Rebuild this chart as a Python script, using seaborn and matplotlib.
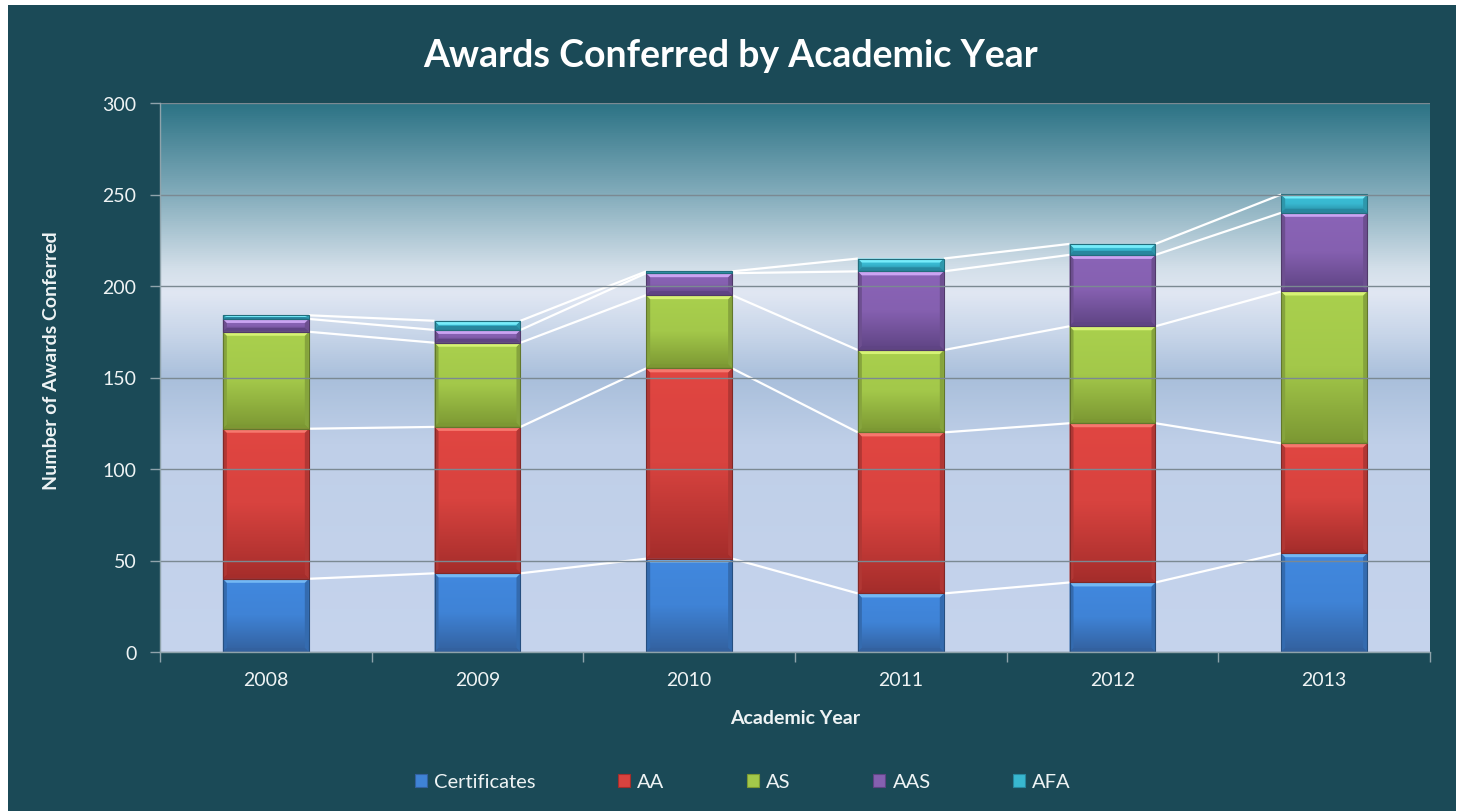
import numpy as np
import pandas as pd
import matplotlib
matplotlib.use("Agg")
import matplotlib.pyplot as plt
from matplotlib.patches import Rectangle, Polygon, Patch
from matplotlib.colors import LinearSegmentedColormap, to_rgb
import seaborn as sns

# ---- data -------------------------------------------------------------
years = ["2008", "2009", "2010", "2011", "2012", "2013"]
series_names = ["Certificates", "AA", "AS", "AAS", "AFA"]
certificates = [40, 43, 51, 32, 38, 54]
aa = [82, 80, 104, 88, 87, 60]
as_awards = [53, 46, 40, 45, 53, 83]
aas = [7, 7, 12, 43, 39, 43]
afa = [2, 5, 1, 7, 6, 10]
y_ticks = [0, 50, 100, 150, 200, 250, 300]

series_values = [certificates, aa, as_awards, aas, afa]

# body colour, light bevel, dark bottom for each series
palette = {
    "Certificates": ("#3f83d6", "#74b8f4", "#33619f"),
    "AA": ("#d8433f", "#f6786e", "#a52d2b"),
    "AS": ("#a3c84a", "#d6f275", "#7c9833"),
    "AAS": ("#8560b0", "#cba4f2", "#5f4484"),
    "AFA": ("#38b8d0", "#76ecfa", "#27879e"),
}

BG = "#1b4a57"
TEXT = "#eef3f4"
GRID = "#7b8992"

W, H, DPI = 1462, 812, 100
plt.rcParams["font.family"] = ["Lato", "DejaVu Sans"]

fig = plt.figure(figsize=(W / DPI, H / DPI), dpi=DPI, facecolor="white")
fig.patches.append(Rectangle((8 / W, 0), (1456 - 8) / W, 1 - 6 / H,
                             transform=fig.transFigure, facecolor=BG,
                             edgecolor="none", zorder=-10))

L, R, T, B = 160, 1430, 104, 653
ax = fig.add_axes([L / W, 1 - B / H, (R - L) / W, (B - T) / H])
ax.set_facecolor("none")

# ---- stacked bars via seaborn -----------------------------------------
bar_w = 0.406
cum = np.zeros(len(years))
containers = []
for name, vals in zip(series_names, series_values):
    df = pd.DataFrame({"year": years, "value": vals})
    sns.barplot(data=df, x="year", y="value", order=years, color=palette[name][0],
                width=bar_w, errorbar=None, bottom=cum.copy(), ax=ax,
                edgecolor="none", linewidth=0, zorder=2, saturation=1)
    containers.append(ax.containers[-1])
    cum = cum + np.array(vals)

xlim = (-0.5, 5.5)
ylim = (0, 300)
px_x = (xlim[1] - xlim[0]) / (R - L)
px_y = (ylim[1] - ylim[0]) / (B - T)

# ---- plot-area gradient -------------------------------------------------
bg_cmap = LinearSegmentedColormap.from_list("plotbg", [
    (0.00, "#c6d4ed"), (0.38, "#bfcfe8"), (0.50, "#a9bfdb"),
    (0.58, "#c8d6e9"), (0.655, "#e1e7f3"), (0.70, "#d3dfe9"),
    (0.83, "#86aebd"), (1.00, "#2c7385")])
grad = np.linspace(0, 1, 512)[:, None]
ax.imshow(grad, cmap=bg_cmap, origin="lower", aspect="auto",
          extent=[xlim[0], xlim[1], ylim[0], ylim[1]], zorder=0)

# ---- bevelled, shaded segments ----------------------------------------
for name, cont in zip(series_names, containers):
    body, light, dark = palette[name]
    seg_cmap = LinearSegmentedColormap.from_list(
        name, [dark, body, tuple(min(1, c * 1.04) for c in to_rgb(body))])
    for p in cont.patches:
        x0, y0 = p.get_x(), p.get_y()
        x1, y1 = x0 + p.get_width(), y0 + p.get_height()
        if p.get_height() <= 0:
            continue
        img = ax.imshow(np.linspace(0, 1, 64)[:, None], cmap=seg_cmap, origin="lower",
                        aspect="auto", extent=[x0, x1, y0, y1], zorder=2.1)
        img.set_clip_path(p)
        bx = 4 * px_x
        by = min(4 * px_y, (y1 - y0) / 2)
        sx = min(bx, (x1 - x0) / 2)
        side = tuple(c * 0.82 for c in to_rgb(body))
        ax.add_patch(Polygon([(x0, y0), (x0 + sx, y0 + by), (x0 + sx, y1 - by), (x0, y1)],
                             closed=True, facecolor=side, edgecolor="none", zorder=2.2))
        ax.add_patch(Polygon([(x1, y0), (x1 - sx, y0 + by), (x1 - sx, y1 - by), (x1, y1)],
                             closed=True, facecolor=side, edgecolor="none", zorder=2.2))
        ax.add_patch(Polygon([(x0, y1), (x1, y1), (x1 - sx, y1 - by), (x0 + sx, y1 - by)],
                             closed=True, facecolor=light, edgecolor="none", zorder=2.3))
        ax.add_patch(Polygon([(x0, y0), (x1, y0), (x1 - sx, y0 + by), (x0 + sx, y0 + by)],
                             closed=True, facecolor=dark, edgecolor="none", zorder=2.3))
        ax.add_patch(Rectangle((x0, y0), x1 - x0, y1 - y0, facecolor="none",
                               edgecolor=tuple(c * 0.6 for c in to_rgb(body)),
                               linewidth=0.8, zorder=2.4))

# ---- series lines joining the segment tops ----------------------------
for cont in containers:
    tops = [(p.get_x(), p.get_x() + p.get_width(), p.get_y() + p.get_height())
            for p in cont.patches]
    for (a0, a1, ta), (b0, b1, tb) in zip(tops[:-1], tops[1:]):
        ax.plot([a1, b0], [ta, tb], color="white", linewidth=1.6, zorder=1.8,
                solid_capstyle="butt")

# ---- axes styling ------------------------------------------------------
ax.set_xlim(*xlim)
ax.set_ylim(*ylim)
ax.set_yticks(y_ticks)
ax.set_yticklabels([str(v) for v in y_ticks])
ax.grid(axis="y", color=GRID, linewidth=1.0, zorder=1)
ax.grid(axis="x", visible=False)
ax.set_axisbelow(False)
for gl in ax.get_ygridlines():
    gl.set_zorder(1)

for s in ["top", "right"]:
    ax.spines[s].set_visible(False)
for s in ["left", "bottom"]:
    ax.spines[s].set_color("#8fa3ab")
    ax.spines[s].set_linewidth(1.0)
    ax.spines[s].set_zorder(3)

ax.tick_params(axis="y", colors="#8fa3ab", labelcolor=TEXT, labelsize=14,
               length=7, width=1, direction="out", pad=10)
ax.tick_params(axis="x", which="major", length=0, labelcolor=TEXT, labelsize=14, pad=14)
ax.set_xticks(np.arange(-0.5, 6.0, 1.0), minor=True)
ax.tick_params(axis="x", which="minor", colors="#8fa3ab", length=7, width=1,
               direction="out")

ax.set_xlabel("Academic Year", color=TEXT, fontsize=14, fontweight="bold", va="center")
ax.xaxis.set_label_coords(0.5, (B - 718) / (B - T))
ax.set_ylabel("Number of Awards Conferred", color=TEXT, fontsize=14,
              fontweight="bold", va="center")
ax.yaxis.set_label_coords((52 - L) / (R - L), (B - 361) / (B - T))

fig.text(0.5, 1 - 67 / H, "Awards Conferred by Academic Year", ha="center",
         va="baseline", color="white", fontsize=27, fontweight="bold")

handles = [Patch(facecolor=palette[n][0], edgecolor=palette[n][2], linewidth=0.8)
           for n in series_names]
fig.legend(handles, series_names, loc="center", bbox_to_anchor=(743 / W, 1 - 783 / H),
           ncol=5, frameon=False, fontsize=14.5, labelcolor=TEXT,
           handlelength=0.6, handleheight=0.6, handletextpad=0.35,
           columnspacing=4.1, borderaxespad=0)

fig.savefig("out.png", dpi=DPI, facecolor=fig.get_facecolor())
